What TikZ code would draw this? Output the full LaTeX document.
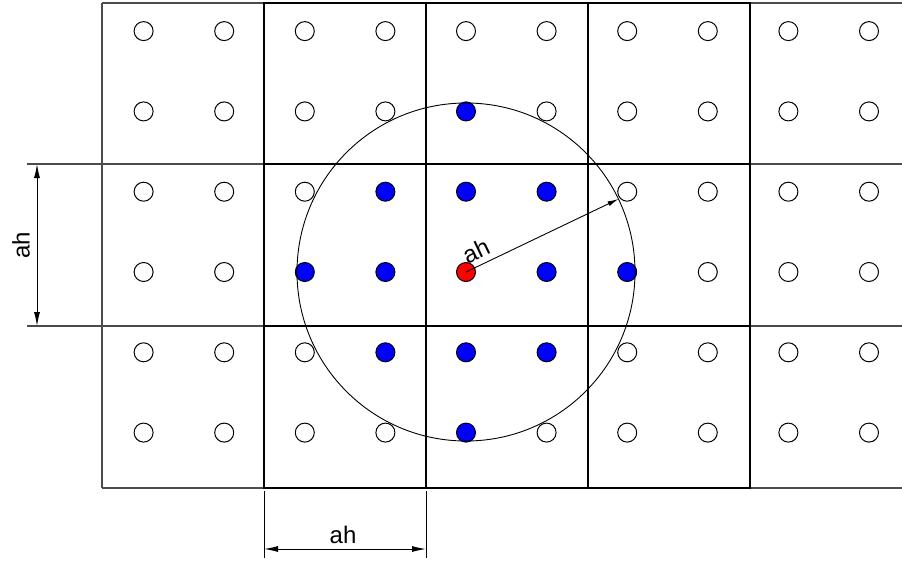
\documentclass[tikz,border=0pt]{standalone}
\usepackage{fontspec}
\setmainfont{Liberation Sans}
\usetikzlibrary{arrows.meta}
\begin{document}
\begin{tikzpicture}[x=1pt,y=-1pt,
  thingrid/.style={draw=black!70, line width=1.3pt},
  thickgrid/.style={draw=black, line width=2.6pt},
  dimline/.style={draw=black, line width=1pt},
  dot/.style={circle, draw=black, line width=1pt, minimum size=19pt, inner sep=0pt},
  opendot/.style={dot},
  bluedot/.style={dot, fill=blue},
  reddot/.style={dot, fill=red},
  dimarrow/.style={dimline, {Latex[length=14pt,width=6pt]}-{Latex[length=14pt,width=6pt]}},
  lbl/.style={font=\fontsize{24}{24}\selectfont, inner sep=0pt, text=black}]
\useasboundingbox (0,0) rectangle (902,560);
% thin grid
\draw[thingrid] (102,3) -- (902,3);
\draw[thingrid] (27,164) -- (902,164);
\draw[thingrid] (27,326) -- (902,326);
\draw[thingrid] (102,488) -- (902,488);
\draw[thingrid] (102,3) -- (102,488);
% thick block
\draw[thickgrid] (264,3) rectangle (750,488);
\draw[thickgrid] (426,3) -- (426,488);
\draw[thickgrid] (588,3) -- (588,488);
\draw[thickgrid] (264,164) -- (750,164);
\draw[thickgrid] (264,326) -- (750,326);
% dots
\foreach \i in {0,...,9}{
  \foreach \j in {0,...,5}{
    \pgfmathsetmacro{\px}{466+80.6*(\i-4)}
    \pgfmathsetmacro{\py}{272+80.3*(\j-3)}
    \pgfmathtruncatemacro{\md}{abs(\i-4)+abs(\j-3)}
    \ifnum\md=0
      \node[reddot] (c) at (\px,\py) {};
    \else\ifnum\md<3
      \node[bluedot] (d\i\j) at (\px,\py) {};
    \else
      \node[opendot] (d\i\j) at (\px,\py) {};
    \fi\fi
  }
}
% radius circle and arrow
\draw[line width=0.9pt] (c.center) circle (169);
\coordinate (tipc) at (618.5,199);
\draw[line width=0.9pt, -{Latex[length=11pt,width=5pt]}] (c.center) -- (tipc);
\node[lbl, rotate=25.5] (rlabel) at (476,251) {ah};
% left dimension
\coordinate (l1) at (37,164);
\coordinate (l2) at (37,326);
\draw[dimarrow] (l1) -- (l2);
\node[lbl, rotate=90] (llabel) at (21,245) {ah};
% bottom dimension
\coordinate (b1) at (264,491);
\coordinate (b2) at (264,558);
\coordinate (b3) at (426,491);
\coordinate (b4) at (426,558);
\draw[dimline] (b1) -- (b2);
\draw[dimline] (b3) -- (b4);
\coordinate (bl) at (264,549);
\coordinate (br) at (426,549);
\draw[dimarrow] (bl) -- (br);
\node[lbl] (blabel) at (343,535) {ah};
\end{tikzpicture}
\end{document}
